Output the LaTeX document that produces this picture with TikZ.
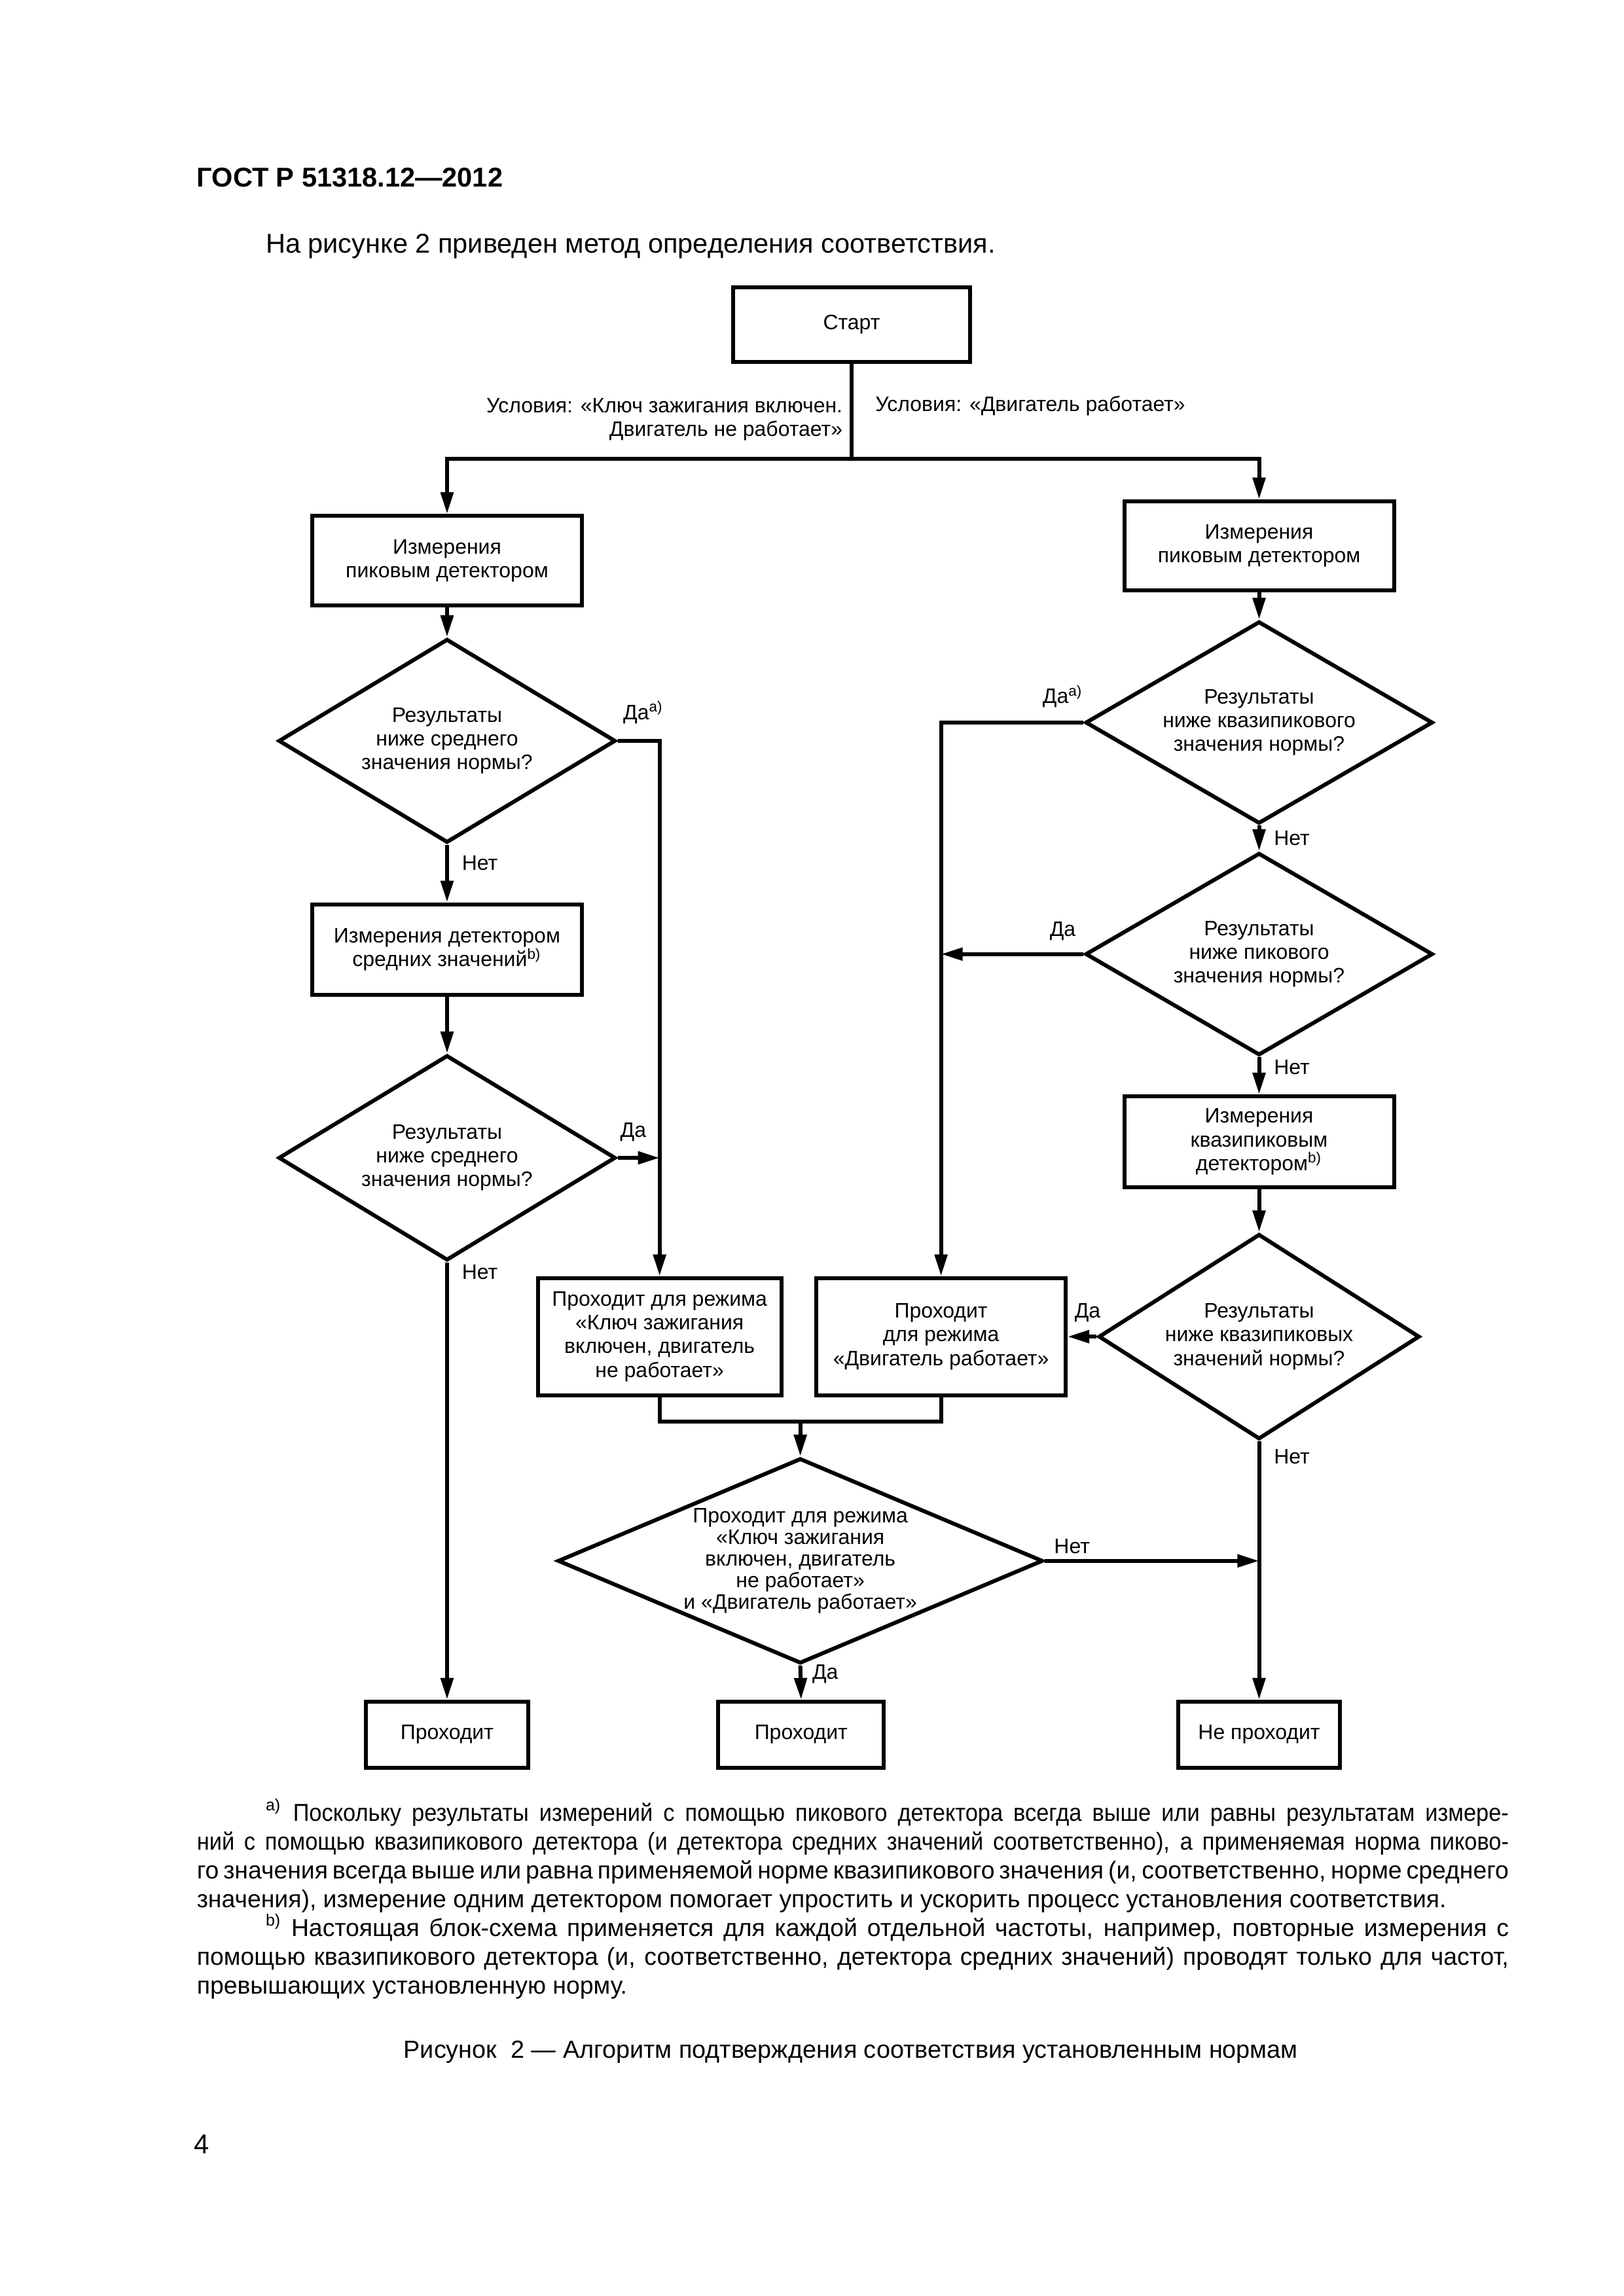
\documentclass[tikz,border=0pt]{standalone}
\usepackage{fontspec}
\setmainfont{Liberation Sans}
\usetikzlibrary{arrows.meta,shapes.geometric}

\newlength\ux
\setlength\ux{0.18958mm}

\begin{document}
\begin{tikzpicture}[x=\ux, y=-\ux, line width=1.45pt,
    >={Triangle[length=2.8mm,width=1.6mm]},
    font=\fontsize{7.7}{8.7}\selectfont,
    block/.style={draw, rectangle, align=center, inner sep=1pt},
    cond/.style={draw, diamond, align=center, inner sep=0pt},
    lbl/.style={inner sep=1pt}]
    \useasboundingbox (0,0) rectangle (1107.7,1566.6);

    % Page text
    \node[anchor=west, inner sep=0pt, font=\bfseries\fontsize{10}{12}\selectfont] (gost) at (133,121) {ГОСТ Р 51318.12—2012};
    \node[anchor=west, inner sep=0pt, font=\fontsize{10}{12}\selectfont] (intro) at (180,168) {На рисунке 2 приведен метод определения соответствия.};

    % Start and branching
    \node[block, minimum width=162\ux, minimum height=51\ux] (start) at (581,221.5) {Старт};
    \coordinate (split) at (581,313);
    \node[lbl, anchor=east, align=right] (condIgn) at (578,286) {Условия: «Ключ зажигания включен.\\Двигатель не работает»};
    \node[lbl, anchor=west] (condEng) at (594,277) {Условия: «Двигатель работает»};

    % Left column (ignition on, engine off)
    \node[block, minimum width=184\ux, minimum height=61\ux] (pkL) at (305,382.5) {Измерения\\пиковым детектором};
    \node[cond, aspect=1.65, minimum width=230\ux, minimum height=139\ux] (qL1) at (305,505.5) {Результаты\\ниже среднего\\значения нормы?};
    \node[block, minimum width=184\ux, minimum height=62\ux] (avL) at (305,648) {Измерения детектором\\средних значений\textsuperscript{b)}};
    \node[cond, aspect=1.65, minimum width=230\ux, minimum height=140\ux] (qL2) at (305,790) {Результаты\\ниже среднего\\значения нормы?};
    \node[block, minimum width=111\ux, minimum height=45\ux] (passL) at (305,1183.5) {Проходит};

    % Middle results
    \node[block, minimum width=166\ux, minimum height=80\ux] (passIgn) at (450,912) {Проходит для режима\\«Ключ зажигания\\включен, двигатель\\не работает»};
    \node[block, minimum width=170\ux, minimum height=80\ux] (passEng) at (642,912) {Проходит\\для режима\\«Двигатель работает»};
    \coordinate (merge) at (546,970);
    \node[cond, aspect=2.36, inner sep=-1pt, minimum width=331\ux, minimum height=140\ux, font=\fontsize{7.7}{7.9}\selectfont] (qBoth) at (546,1065) {Проходит для режима\\«Ключ зажигания\\включен, двигатель\\не работает»\\и «Двигатель работает»};
    \node[block, minimum width=113\ux, minimum height=45\ux] (passM) at (546.5,1183.5) {Проходит};

    % Right column (engine running)
    \node[block, minimum width=184\ux, minimum height=61\ux] (pkR) at (859,372.5) {Измерения\\пиковым детектором};
    \node[cond, aspect=1.72, minimum width=237\ux, minimum height=138\ux] (qR1) at (859,493) {Результаты\\ниже квазипикового\\значения нормы?};
    \node[cond, aspect=1.72, minimum width=237\ux, minimum height=138\ux] (qR2) at (859,651) {Результаты\\ниже пикового\\значения нормы?};
    \node[block, minimum width=184\ux, minimum height=62\ux] (qpR) at (859,779) {Измерения\\квазипиковым\\детектором\textsuperscript{b)}};
    \node[cond, aspect=1.56, minimum width=219\ux, minimum height=140\ux] (qR3) at (859,912) {Результаты\\ниже квазипиковых\\значений нормы?};
    \node[block, minimum width=110\ux, minimum height=45\ux] (fail) at (859,1183.5) {Не проходит};

    % Connectors
    \draw (start.south) -- (split);
    \draw[->] (split) -| (pkL.north);
    \draw[->] (split) -| (pkR.north);

    \draw[->] (pkL.south) -- (qL1.north);
    \draw[->] (qL1.east) -| (passIgn.north);
    \draw[->] (qL1.south) -- (avL.north);
    \draw[->] (avL.south) -- (qL2.north);
    \coordinate (jL) at (passIgn.north |- qL2.east);
    \draw[->] (qL2.east) -- (jL);
    \draw[->] (qL2.south) -- (passL.north);

    \draw (passIgn.south) |- (merge) -| (passEng.south);
    \draw[->] (merge) -- (qBoth.north);
    \draw[->] (qBoth.south) -- (passM.north);
    \coordinate (jR) at (fail.north |- qBoth.east);
    \draw[->] (qBoth.east) -- (jR);

    \draw[->] (pkR.south) -- (qR1.north);
    \draw[->] (qR1.west) -| (passEng.north);
    \draw[->] (qR1.south) -- (qR2.north);
    \coordinate (jM) at (passEng.north |- qR2.west);
    \draw[->] (qR2.west) -- (jM);
    \draw[->] (qR2.south) -- (qpR.north);
    \draw[->] (qpR.south) -- (qR3.north);
    \draw[->] (qR3.west) -- (passEng.east);
    \draw[->] (qR3.south) -- (fail.north);

    % Branch labels
    \node[lbl, anchor=south west] (yesL1) at (422,497) {Да\textsuperscript{a)}};
    \node[lbl, anchor=west] (noL1) at (312,589) {Нет};
    \node[lbl, anchor=south west] (yesL2) at (420,782) {Да};
    \node[lbl, anchor=west] (noL2) at (312,868) {Нет};
    \node[lbl, anchor=west] (noB) at (716,1055) {Нет};
    \node[lbl, anchor=west] (yesB) at (551,1142) {Да};
    \node[lbl, anchor=south east] (yesR1) at (742,486) {Да\textsuperscript{a)}};
    \node[lbl, anchor=west] (noR1) at (866,572) {Нет};
    \node[lbl, anchor=south] (yesR2) at (725,645) {Да};
    \node[lbl, anchor=west] (noR2) at (866,728) {Нет};
    \node[lbl, anchor=south] (yesR3) at (742,905) {Да};
    \node[lbl, anchor=west] (noR3) at (866,994) {Нет};

    % Footnotes and caption
    \node[anchor=north west, inner sep=0pt, text width=895\ux, align=justify,
          font=\fontsize{9}{10.6}\selectfont] (notes) at (133,1226) {%
      \tolerance=9999\emergencystretch=2em
      \hspace*{47\ux}\textsuperscript{a)}\ {\addfontfeature{FakeStretch=0.92}Поскольку результаты измерений с помощью пикового детектора всегда выше или равны результатам измере-\linebreak ний с помощью квазипикового детектора (и детектора средних значений соответственно), а применяемая норма пиково-}\linebreak го значения всегда выше или равна применяемой норме квазипикового значения (и, соответственно, норме среднего\linebreak значения), измерение одним детектором помогает упростить и ускорить процесс установления соответствия.\par
      \hspace*{47\ux}\textsuperscript{b)}\ Настоящая блок-схема применяется для каждой отдельной частоты, например, повторные измерения с\linebreak помощью квазипикового детектора (и, соответственно, детектора средних значений) проводят только для частот,\linebreak превышающих установленную норму.};
    \node[font=\fontsize{9.1}{11}\selectfont] (caption) at (580.5,1400) {Рисунок\ \ 2 — Алгоритм подтверждения соответствия установленным нормам};
    \node[anchor=west, inner sep=0pt, font=\fontsize{10}{12}\selectfont] (page) at (131,1463) {4};
\end{tikzpicture}
\end{document}
